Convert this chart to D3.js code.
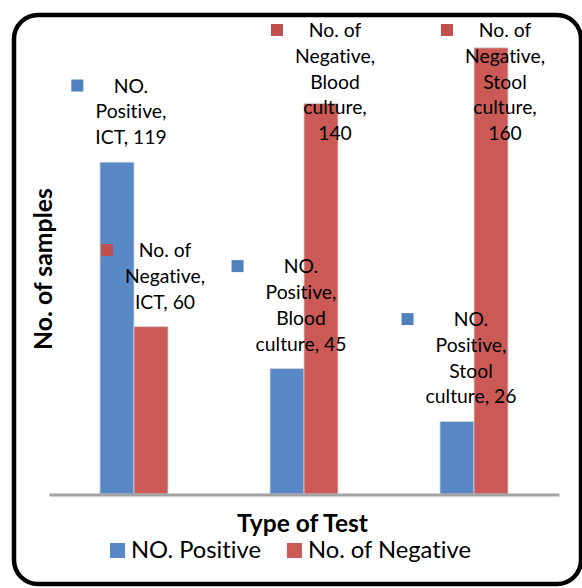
<!DOCTYPE html>
<html>
<head>
<meta charset="utf-8">
<script src="https://cdn.jsdelivr.net/npm/d3@7"></script>
<style>
  html, body { margin: 0; padding: 0; background: #fff; }
  svg { display: block; }
  text { font-variant-ligatures: none; font-feature-settings: "liga" 0, "clig" 0; }
</style>
</head>
<body>
<svg id="chart" width="582" height="588"></svg>
<script>
// ---- data ----
const categories = ["ICT", "Blood culture", "Stool culture"];
const seriesNames = ["NO. Positive", "No. of Negative"];
const positiveValues = [119, 45, 26];
const negativeValues = [60, 140, 160];
// how many words go on each wrapped line of a data label, per category
const positiveLabelLines = [[1, 1, 2], [1, 1, 1, 2], [1, 1, 1, 2]];
const negativeLabelLines = [[2, 1, 2], [2, 1, 1, 1, 1], [2, 1, 1, 1, 1]];
const xTitle = "Type of Test";
const yTitle = "No. of samples";

// ---- styling ----
const FONT = "Lato, 'Open Sans', sans-serif";
const barColors = ["#5889c6", "#cb5a57"];
const keyColors = ["#4f81bd", "#c0504d"];

const svg = d3.select("#chart");

// frame with rounded corners
svg.append("rect")
  .attr("x", 14).attr("y", 15)
  .attr("width", 567).attr("height", 569)
  .attr("rx", 24).attr("ry", 24)
  .attr("fill", "#fff")
  .attr("stroke", "#000")
  .attr("stroke-width", 4.5);

// pick a font size so a sample string takes a given width
function fitSize(text, weight, targetWidth) {
  const t = svg.append("text")
    .attr("font-family", FONT)
    .attr("font-weight", weight)
    .attr("font-size", 100)
    .text(text);
  const w = t.node().getComputedTextLength();
  t.remove();
  return 100 * targetWidth / w;
}
const labelSize = fitSize("Positive,", 400, 71);
const legendSize = fitSize("NO. Positive", 400, 130);
const xTitleSize = fitSize(xTitle, 700, 131);
const yTitleSize = fitSize(yTitle, 700, 162);

// ---- scales ----
const x0 = d3.scaleBand()
  .domain(categories)
  .range([49, 559])
  .paddingInner(0.6)
  .paddingOuter(0.3);
const x1 = d3.scaleBand()
  .domain(seriesNames)
  .range([0, x0.bandwidth()]);
const y = d3.scaleLinear()
  .domain([0, 160])
  .range([494, 47.8]);

const seriesValues = [positiveValues, negativeValues];
const seriesLines = [positiveLabelLines, negativeLabelLines];

const rows = [];
seriesNames.forEach((s, si) => {
  categories.forEach((c, ci) => {
    rows.push({
      series: s, si, category: c,
      value: seriesValues[si][ci],
      lines: seriesLines[si][ci]
    });
  });
});

// ---- bars ----
svg.append("g")
  .selectAll("rect")
  .data(rows)
  .join("rect")
  .attr("x", d => x0(d.category) + x1(d.series))
  .attr("y", d => y(d.value))
  .attr("width", x1.bandwidth())
  .attr("height", d => y(0) - y(d.value))
  .attr("fill", d => barColors[d.si])
  .attr("stroke", "#d4d4d4")
  .attr("stroke-width", 0.8);

// ---- category axis (line only) ----
const axis = svg.append("g")
  .attr("transform", `translate(0,${y(0) + 0.5})`)
  .call(d3.axisBottom(x0).tickSize(0).tickFormat(""));
axis.select(".domain")
  .attr("stroke", "#a3a3a3")
  .attr("stroke-width", 3);

// ---- data labels with legend keys ----
const lineHeight = 25.8;
const labelTop = 37;
const labels = svg.append("g")
  .attr("font-family", FONT)
  .attr("font-size", labelSize)
  .attr("fill", "#000");

rows.forEach(d => {
  const words = `${d.series}, ${d.category}, ${d.value}`.split(" ");
  const lines = [];
  let k = 0;
  d.lines.forEach(n => { lines.push(words.slice(k, k + n).join(" ")); k += n; });

  const cx = x0(d.category) + x1(d.series) + x1.bandwidth() / 2 + 14;
  const lastBase = y(d.value) - 18;
  const firstBase = Math.max(labelTop, lastBase - (lines.length - 1) * lineHeight);

  const t = labels.append("text").attr("text-anchor", "middle");
  lines.forEach((ln, i) => {
    t.append("tspan")
      .attr("x", cx)
      .attr("y", firstBase + i * lineHeight)
      .text(ln);
  });
  let maxW = 0;
  t.selectAll("tspan").each(function () {
    maxW = Math.max(maxW, this.getComputedTextLength());
  });
  labels.append("rect")
    .attr("x", cx - maxW / 2 - 24)
    .attr("y", firstBase - 13)
    .attr("width", 12)
    .attr("height", 12)
    .attr("fill", keyColors[d.si]);
});

// ---- axis titles ----
svg.append("text")
  .attr("x", (x0.range()[0] + x0.range()[1]) / 2 - 1.5)
  .attr("y", 532)
  .attr("text-anchor", "middle")
  .attr("font-family", FONT)
  .attr("font-weight", 700)
  .attr("font-size", xTitleSize)
  .text(xTitle);

svg.append("text")
  .attr("transform", "translate(52,269) rotate(-90)")
  .attr("text-anchor", "middle")
  .attr("font-family", FONT)
  .attr("font-weight", 700)
  .attr("font-size", yTitleSize)
  .text(yTitle);

// ---- legend ----
const legend = svg.append("g")
  .attr("font-family", FONT)
  .attr("font-size", legendSize);
let lx = 110;
seriesNames.forEach((s, i) => {
  legend.append("rect")
    .attr("x", lx).attr("y", 543)
    .attr("width", 15).attr("height", 15)
    .attr("fill", barColors[i]);
  const txt = legend.append("text")
    .attr("x", lx + 21).attr("y", 558)
    .text(s);
  lx += 21 + txt.node().getComputedTextLength() + 26;
});
</script>
</body>
</html>
